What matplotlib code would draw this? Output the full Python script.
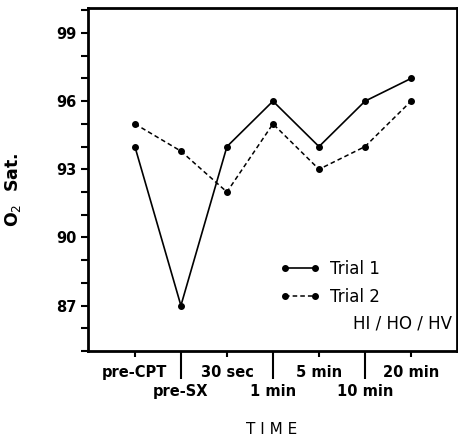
import matplotlib
matplotlib.use("Agg")
import matplotlib.pyplot as plt
from matplotlib.ticker import MultipleLocator

# data
time_points = ["pre-CPT", "pre-SX", "30 sec", "1 min", "5 min", "10 min", "20 min"]
trial1 = [94, 87, 94, 96, 94, 96, 97]
trial2 = [95, 93.8, 92, 95, 93, 94, 96]
y_ticks = [87, 90, 93, 96, 99]

fig = plt.figure(figsize=(4.58, 4.46), dpi=100)
ax = fig.add_axes([0.192, 0.213, 0.806, 0.769])

x = list(range(len(time_points)))
ax.plot(x, trial1, color="black", linestyle="-", linewidth=1.2,
        marker="o", markersize=4, label="Trial 1")
ax.plot(x, trial2, color="black", linestyle=(0, (3, 2)), linewidth=1.1,
        marker="o", markersize=4, label="Trial 2")

ax.set_xlim(-1.02, 7.0)
ax.set_ylim(85, 100.1)

# y axis
ax.set_yticks(y_ticks)
ax.yaxis.set_minor_locator(MultipleLocator(1))
ax.tick_params(axis="y", which="both", direction="out", length=5, width=1.5)
for lab in ax.get_yticklabels():
    lab.set_fontweight("bold")
    lab.set_fontsize(10.5)

# x axis: even points on first row (short ticks), odd points on second row (long ticks)
ax.set_xticks(x[0::2])
ax.set_xticklabels(time_points[0::2], fontsize=10.5, fontweight="bold")
ax.set_xticks(x[1::2], minor=True)
ax.set_xticklabels(time_points[1::2], minor=True, fontsize=10.5, fontweight="bold")
ax.tick_params(axis="x", which="major", direction="out", length=4, width=1.5, pad=6)
ax.tick_params(axis="x", which="minor", direction="out", length=20, width=1.5, pad=4)

for s in ax.spines.values():
    s.set_linewidth(2)

ax.set_ylabel("O$_2$  Sat.", fontsize=12.5, fontweight="bold")
ax.yaxis.set_label_coords(-0.175, 0.47)
fig.text(0.594, 0.036, "T I M E", ha="center", va="center", fontsize=11)

ax.legend(loc="upper left", bbox_to_anchor=(0.52, 0.265), frameon=False,
          numpoints=2, handlelength=2.4, handletextpad=0.6, labelspacing=0.6,
          borderaxespad=0, borderpad=0, fontsize=12)
ax.text(0.985, 0.08, "HI / HO / HV", transform=ax.transAxes, ha="right",
        va="center", fontsize=12)

fig.savefig("out.png", dpi=100)
